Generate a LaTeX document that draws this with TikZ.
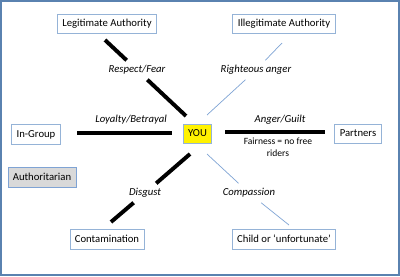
\documentclass[tikz,border=0pt]{standalone}
\usepackage{fontspec}
\setmainfont{Carlito}
\definecolor{frameblue}{HTML}{5A82B0}
\definecolor{boxblue}{HTML}{95B3D7}
\definecolor{thinblue}{HTML}{7FA3D4}
\definecolor{greyfill}{HTML}{D9D9D9}

\begin{document}
\begin{tikzpicture}[x=0.025cm,y=-0.025cm,
    every node/.style={font=\fontsize{7.6}{9}\selectfont},
    box/.style={draw=boxblue,line width=0.6pt,fill=white,minimum height=0.45cm,
      inner xsep=3.5pt,text height=5.4pt,text depth=1.6pt},
    lbl/.style={font=\fontsize{7.6}{9}\selectfont\itshape,inner xsep=1pt,inner ysep=3.1pt,
      text height=5.4pt,text depth=1.8pt},
    strong/.style={line width=2.8pt,black},
    weak/.style={line width=0.5pt,thinblue}]
  \useasboundingbox (0,0) rectangle (400,276);
  % outer frame
  \draw[frameblue,line width=1.4pt] (1,1) rectangle (399,275);
  % the domains
  \node[box] (legit) at (107,24) {Legitimate Authority};
  \node[box] (illegit) at (284,24) {Illegitimate Authority};
  \node[box] (ingroup) at (36,134.5) {In-Group};
  \node[box,fill=yellow,draw=boxblue] (you) at (197.5,134) {YOU};
  \node[box] (partners) at (358,134) {Partners};
  \node[box,fill=greyfill,draw=thinblue] (auth) at (42,177.5) {Authoritarian};
  \node[box] (contam) at (107,239.5) {Contamination};
  \node[box] (child) at (284,239.5) {Child or ‘unfortunate’};
  % emotions on the spokes
  \node[lbl] (respect) at (137,70) {Respect/Fear};
  \node[lbl] (righteous) at (256,70) {Righteous anger};
  \node[lbl] (loyalty) at (131,120) {Loyalty/Betrayal};
  \node[lbl] (anger) at (280,120) {Anger/Guilt};
  \node[align=center,font=\fontsize{6.8}{8.5}\selectfont] (fair) at (278,147) {Fairness = no free\\riders};
  \node[lbl] (disgust) at (145,193) {Disgust};
  \node[lbl] (compassion) at (249,193) {Compassion};
  % ends of the spokes
  \coordinate (la) at (105,40);
  \coordinate (lb) at (186,116);
  \coordinate (ia) at (282,43);
  \coordinate (ib) at (207,115);
  \coordinate (ga) at (77,133);
  \coordinate (gb) at (172,133);
  \coordinate (pa) at (225,132);
  \coordinate (pb) at (325,132);
  \coordinate (da) at (190,154);
  \coordinate (db) at (111,222);
  \coordinate (ca) at (207,154);
  \coordinate (cb) at (289,225);
  % spokes
  \draw[strong] (la) -- (respect) -- (lb);
  \draw[weak] (ia) -- (righteous) -- (ib);
  \draw[strong] (ga) -- (gb);
  \draw[strong] (pa) -- (pb);
  \draw[strong] (da) -- (disgust) -- (db);
  \draw[weak] (ca) -- (compassion) -- (cb);
\end{tikzpicture}
\end{document}
